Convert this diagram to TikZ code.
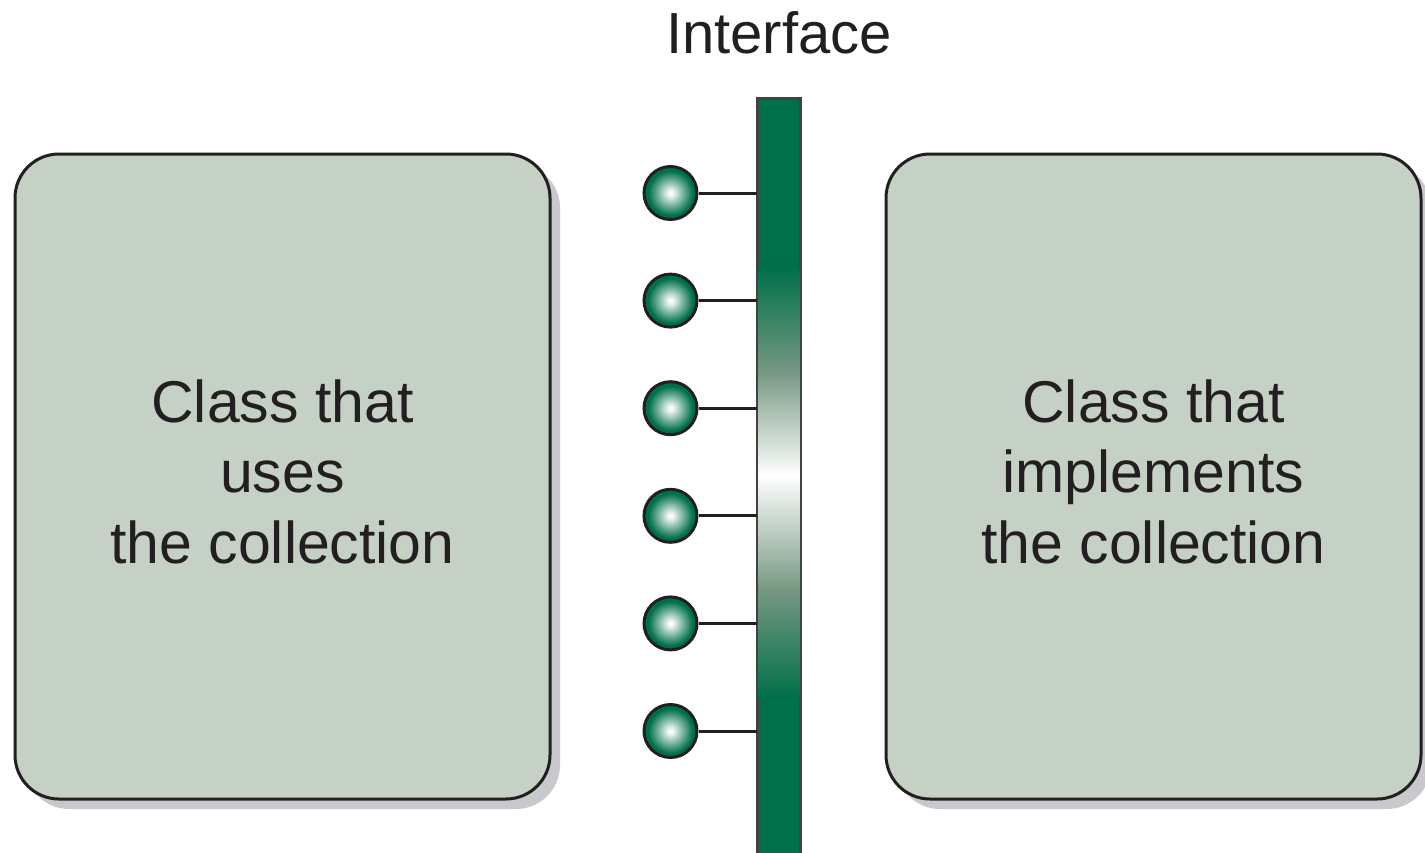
\documentclass[tikz,border=0pt]{standalone}
\usepackage{fontspec}
\setmainfont{Liberation Sans}
\usetikzlibrary{shadows}
\definecolor{dg}{RGB}{0,112,74}
\definecolor{mg}{RGB}{118,152,130}
\definecolor{boxfill}{RGB}{197,209,197}
\definecolor{ink}{RGB}{35,31,32}
\definecolor{shadowgray}{RGB}{200,201,205}
\pgfdeclareradialshading{ballshade}{\pgfpoint{0bp}{0bp}}{color(0bp)=(white);color(3bp)=(white!92!dg);color(12bp)=(dg!55!white);color(21bp)=(dg);color(25bp)=(dg);color(50bp)=(dg)}
\tikzset{
  classbox/.style={rectangle, rounded corners=44pt, draw=ink, line width=3pt, fill=boxfill,
    minimum width=535pt, minimum height=645pt,
    drop shadow={shadow xshift=10pt, shadow yshift=-10pt, fill=shadowgray, opacity=1}},
  classtext/.style={align=center, text=ink, font=\fontsize{59}{70.5}\selectfont},
  ball/.style={circle, draw=ink, line width=3pt, minimum size=53pt, inner sep=0pt, shading=ballshade},
  stem/.style={draw=ink, line width=3pt},
  barbox/.style={rectangle, draw=ink!85, line width=1.6pt, fill=dg, minimum width=42pt, minimum height=770pt, inner sep=0pt},
  title/.style={text=ink, font=\fontsize{58}{70}\selectfont}
}
\begin{document}
\begin{tikzpicture}[x=1pt,y=-1pt]
\useasboundingbox (0,0) rectangle (1425,852);
% boxes
\node[classbox] (user) at (282.5,476.5) {};
\node[classbox] (impl) at (1153.5,476.5) {};
\node[classtext] (usertext) at ([yshift=5pt]user.center) {Class that\\uses\\the collection};
\node[classtext] (impltext) at ([yshift=5pt]impl.center) {Class that\\implements\\the collection};
% interface bar
\node[barbox, anchor=north] (bar) at (779,98) {};
\begin{scope}
  \clip (758,98) rectangle (800,860);
  \shade[top color=dg, bottom color=mg] (757,268) rectangle (801,372);
  \shade[top color=mg, bottom color=white] (757,371.5) rectangle (801,476);
  \shade[top color=white, bottom color=mg] (757,475.5) rectangle (801,590);
  \shade[top color=mg, bottom color=dg] (757,589.5) rectangle (801,698);
\end{scope}
\draw[draw=ink!85, line width=1.6pt] (bar.south west) rectangle (bar.north east);
\node[title, anchor=base] (iface) at (779,53) {Interface};
% balls and stems
\foreach \i/\y in {1/193,2/300.6,3/408.2,4/515.8,5/623.4,6/731} {
  \node[ball] (b\i) at (670.5,\y) {};
  \draw[stem] (b\i.east) -- (b\i.east -| bar.west);
}
\end{tikzpicture}
\end{document}
